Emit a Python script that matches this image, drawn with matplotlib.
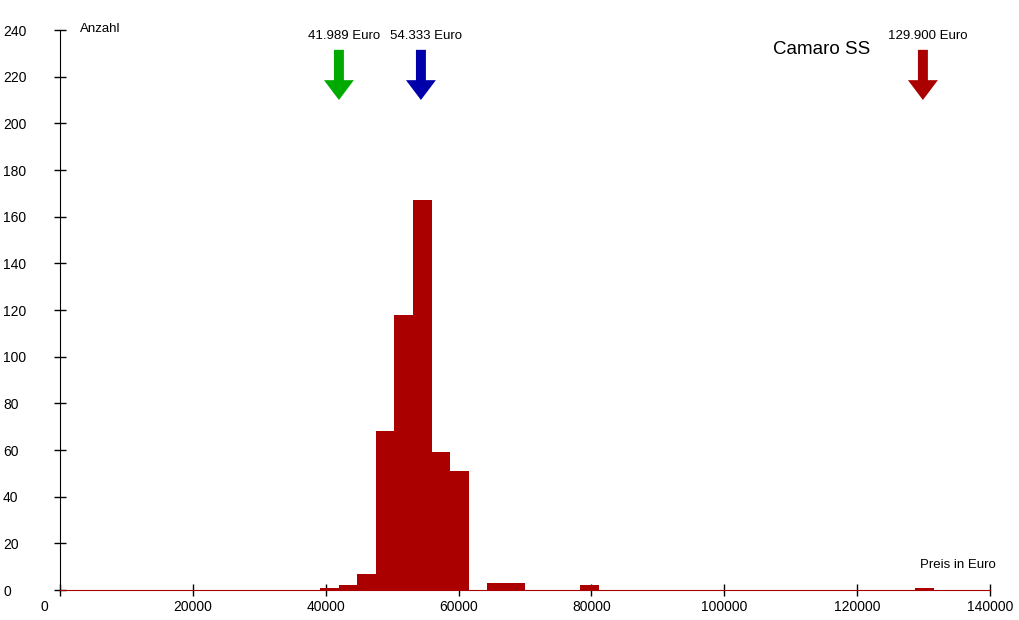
import matplotlib
matplotlib.use('Agg')
import matplotlib.pyplot as plt
import matplotlib.transforms as mtransforms
from matplotlib.patches import FancyArrow

# histogram bins (lower edge in Euro) and counts
bin_left = [39150, 41950, 44750, 47550, 50350, 53150, 55950, 58750,
            64350, 67150, 78350, 128750]
counts = [1, 2, 7, 68, 118, 167, 59, 51, 3, 3, 2, 1]
bin_width = 2800

# marker arrows: price, label, colour
arrow_prices = [41989, 54333, 129900]
arrow_labels = ['41.989 Euro', '54.333 Euro', '129.900 Euro']
arrow_colors = ['#00aa00', '#0000aa', '#aa0000']

x_ticks = [0, 20000, 40000, 60000, 80000, 100000, 120000, 140000]
y_ticks = list(range(0, 241, 20))

plt.rcParams['font.family'] = ['Liberation Sans', 'DejaVu Sans']

fig = plt.figure(figsize=(10.2, 6.2), dpi=100)
ax = fig.add_axes([60 / 1020, 30 / 620, 930 / 1020, 560 / 620])

ax.bar(bin_left, counts, width=bin_width, align='edge', color='#aa0000',
       linewidth=0, zorder=2)

ax.set_xlim(0, 140000)
ax.set_ylim(0, 240)
ax.set_xticks(x_ticks)
ax.set_yticks(y_ticks)
ax.set_xticklabels([str(v) for v in x_ticks])
ax.set_yticklabels([str(v) for v in y_ticks])

for s in ['top', 'right']:
    ax.spines[s].set_visible(False)
ax.spines['left'].set_color('black')
ax.spines['bottom'].set_color('#aa0000')
ax.spines['bottom'].set_zorder(3)

ax.tick_params(axis='both', direction='inout', length=8, width=1,
               color='black', labelsize=10)
ax.tick_params(axis='x', pad=3.5)
ax.tick_params(axis='y', pad=37)
for lbl in ax.get_yticklabels():
    lbl.set_horizontalalignment('left')

# shift the "0" x label away from the y axis
first = ax.get_xticklabels()[0]
first.set_transform(first.get_transform() +
                    mtransforms.ScaledTranslation(-16 / 100, 0, fig.dpi_scale_trans))

# arrows in data units
for price, label, col in zip(arrow_prices, arrow_labels, arrow_colors):
    arr = FancyArrow(price, 231.5, 0, -21.5, width=1500, head_width=4500,
                     head_length=8.5, length_includes_head=True,
                     color=col, linewidth=0, zorder=4)
    ax.add_patch(arr)
    ax.text(price + 700, 237.5, label, ha='center', va='center', fontsize=9.5)

ax.text(3000, 240.5, 'Anzahl', ha='left', va='center', fontsize=9.5)
ax.text(140800, 10.5, 'Preis in Euro', ha='right', va='center', fontsize=9.5)
ax.text(114600, 231.5, 'Camaro SS', ha='center', va='center', fontsize=13.5)

fig.savefig('out.png', dpi=100)
